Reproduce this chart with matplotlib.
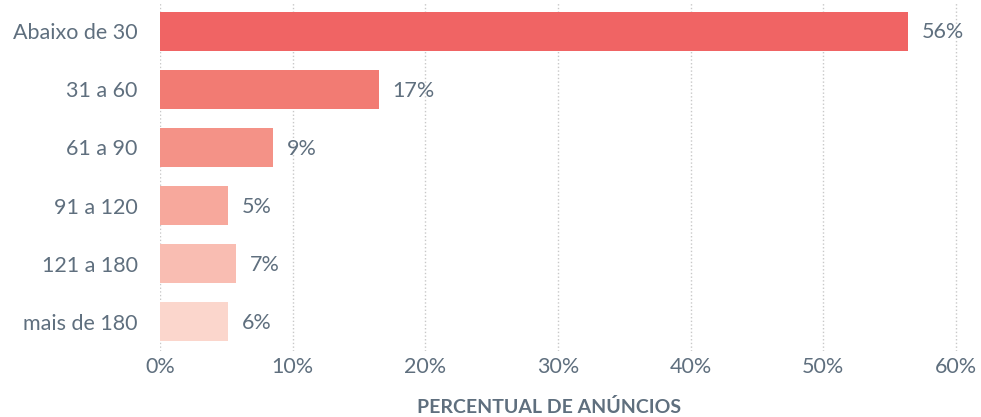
import matplotlib.pyplot as plt
from matplotlib.ticker import FuncFormatter

categorias = ["Abaixo de 30", "31 a 60", "61 a 90", "91 a 120", "121 a 180", "mais de 180"]
percentuais = [56.4, 16.5, 8.5, 5.1, 5.7, 5.1]
rotulos = ["56%", "17%", "9%", "5%", "7%", "6%"]
cores = ["#F06464", "#F27B73", "#F49287", "#F7A89C", "#F9BDB2", "#FBD6CC"]
ticks_x = [0, 10, 20, 30, 40, 50, 60]

texto = "#5F6F7E"
plt.rcParams['font.family'] = ['Lato', 'DejaVu Sans']

fig = plt.figure(figsize=(9.81, 4.17), dpi=100)
ax = fig.add_axes([160 / 981, 1 - 351 / 417, 800 / 981, 349 / 417])

y = list(range(len(categorias)))
ax.barh(y, percentuais, height=0.67, color=cores, zorder=2)
for yi, v, r in zip(y, percentuais, rotulos):
    ax.annotate(r, (v, yi), xytext=(10, -1), textcoords="offset points",
                va="center", ha="left", fontsize=15.5, color=texto)

ax.set_ylim(5.5, -0.5)
ax.set_xlim(0, 60.3)
ax.set_xticks(ticks_x)
ax.xaxis.set_major_formatter(FuncFormatter(lambda v, p: f"{v:.0f}%"))
ax.set_yticks(y)
ax.set_yticklabels(categorias)
ax.tick_params(length=0, labelsize=15.5, colors=texto)
ax.tick_params(axis="y", pad=16)
ax.tick_params(axis="x", pad=4)
ax.grid(axis="x", linestyle=":", color="#C8C8C8", linewidth=1, zorder=0)
for s in ax.spines.values():
    s.set_visible(False)
ax.set_xlabel("PERCENTUAL DE ANÚNCIOS", fontsize=14, color=texto,
              fontweight="bold")
ax.xaxis.set_label_coords((549 - 160) / 800, -47 / 349)

fig.savefig("out.png", dpi=100)
